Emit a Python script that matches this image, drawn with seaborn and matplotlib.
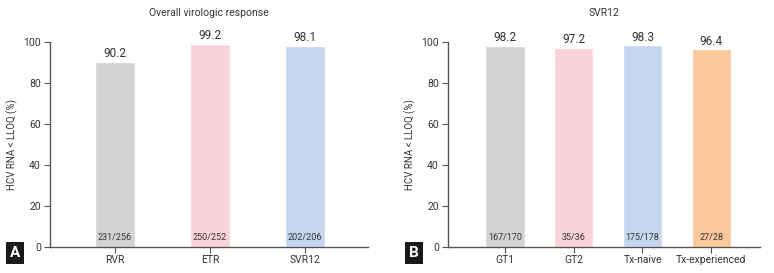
import matplotlib
matplotlib.use("Agg")
import matplotlib.pyplot as plt
import seaborn as sns
import pandas as pd

sns.set_theme(style="white")
plt.rcParams['font.family'] = ['Roboto', 'DejaVu Sans']

cats_a = ["RVR", "ETR", "SVR12"]
vals_a = [90.2, 99.2, 98.1]
counts_a = ["231/256", "250/252", "202/206"]
colors_a = ["#d3d3d3", "#f9d3da", "#c7d6ef"]

cats_b = ["GT1", "GT2", "Tx-naive", "Tx-experienced"]
vals_b = [98.2, 97.2, 98.3, 96.4]
counts_b = ["167/170", "35/36", "175/178", "27/28"]
colors_b = ["#d3d3d3", "#f9d3da", "#c7d6ef", "#fbc89b"]

yticks = [0, 20, 40, 60, 80, 100]
ylabel = "HCV RNA < LLOQ (%)"
titles = ["Overall virologic response", "SVR12"]
panel_labels = ["A", "B"]

TXT = "#333333"
fig = plt.figure(figsize=(7.74, 2.73), dpi=100)
ax_a = fig.add_axes([50/774, 26/273, 318/774, 205/273])
ax_b = fig.add_axes([448/774, 26/273, 312/774, 205/273])

def draw(ax, cats, vals, counts, colors, width, xlim, title, lab, labx):
    df = pd.DataFrame({"cat": cats, "val": vals})
    sns.barplot(data=df, x="cat", y="val", hue="cat", palette=colors,
                width=width, ax=ax, legend=False, saturation=1)
    ax.set_xlim(*xlim)
    ax.set_ylim(0, 100)
    ax.set_yticks(yticks)
    for s in ["top", "right"]:
        ax.spines[s].set_visible(False)
    for s in ["left", "bottom"]:
        ax.spines[s].set_color("#555555")
        ax.spines[s].set_linewidth(1.0)
    ax.tick_params(axis="both", direction="out", width=0.8,
                   color="#555555", labelsize=7.5, labelcolor=TXT,
                   left=True, bottom=True)
    ax.tick_params(axis="x", length=4, pad=2)
    ax.tick_params(axis="y", length=4.5, pad=2)
    ax.set_xlabel("")
    ax.set_ylabel(ylabel, fontsize=7, color=TXT, labelpad=4)
    ax.set_title(title, fontsize=7.5, color=TXT, pad=19)
    for i, (v, c) in enumerate(zip(vals, counts)):
        ax.text(i, v + 0.8, f"{v}", ha="center", va="bottom", fontsize=8.5, color=TXT)
        ax.text(i, 2.5, c, ha="center", va="bottom", fontsize=6.5, color=TXT)
    fig.text(labx, 20/273, lab, ha="center", va="center", fontsize=11,
             fontweight="bold", color="white",
             bbox=dict(boxstyle="square,pad=0.25", fc="#1a1a1a", ec="none"))

draw(ax_a, cats_a, vals_a, counts_a, colors_a, 0.42, (-0.684, 2.66), titles[0], panel_labels[0], 15/774)
draw(ax_b, cats_b, vals_b, counts_b, colors_b, 0.57, (-0.83, 3.71), titles[1], panel_labels[1], 414/774)

fig.savefig("out.png", dpi=100)
